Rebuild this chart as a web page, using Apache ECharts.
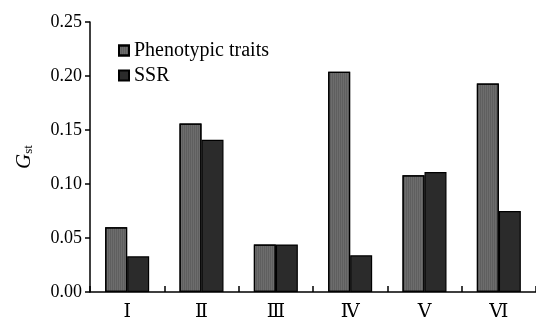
<!DOCTYPE html>
<html><head><meta charset="utf-8">
<script src="https://cdn.jsdelivr.net/npm/echarts@6/dist/echarts.min.js"></script>
<style>html,body{margin:0;padding:0;background:#fff;}#c{width:536px;height:322px;}</style>
</head><body><div id="c"></div>
<script>
const categories = ['Ⅰ','Ⅱ','Ⅲ','Ⅳ','Ⅴ','Ⅵ'];
const phenotypic = [0.060, 0.156, 0.044, 0.204, 0.108, 0.193];
const ssr = [0.033, 0.141, 0.044, 0.034, 0.111, 0.075];
const yTicks = [0, 0.05, 0.10, 0.15, 0.20, 0.25];

const serif = "'Liberation Serif','Times New Roman','DejaVu Serif',serif";
const chart = echarts.init(document.getElementById('c'));
chart.setOption({
  animation: false,
  backgroundColor: '#fff',
  grid: {left: 90, top: 22, bottom: 27, right: -6, containLabel: false},
  legend: {
    orient: 'vertical', left: 113, top: 35, itemWidth: 10, itemHeight: 10, itemGap: 4,
    icon: 'rect',
    textStyle: {fontFamily: serif, fontSize: 20, color: '#000', lineHeight: 21},
    data: ['Phenotypic traits', 'SSR']
  },
  xAxis: {
    type: 'category', data: categories,
    axisLine: {lineStyle: {color: '#000', width: 1.5}},
    axisTick: {show: true, inside: true, length: 6, interval: 0, lineStyle: {color: '#000', width: 1.5}},
    axisLabel: {fontFamily: serif, fontSize: 19, color: '#000', margin: 11}
  },
  yAxis: {
    type: 'value', min: 0, max: 0.25, interval: 0.05,
    name: '{g|G}{s|st}', nameLocation: 'middle', nameGap: 55, nameRotate: 90,
    nameTextStyle: {rich: {
      g: {fontFamily: serif, fontStyle: 'italic', fontSize: 21, color: '#000'},
      s: {fontFamily: serif, fontSize: 13, color: '#000', verticalAlign: 'bottom', padding: [6,0,0,0]}
    }},
    splitLine: {show: false},
    axisLine: {show: true, lineStyle: {color: '#000', width: 1.5}},
    axisTick: {show: true, length: 5, lineStyle: {color: '#000', width: 1.5}},
    axisLabel: {fontFamily: serif, fontSize: 18, color: '#000', margin: 8,
      formatter: v => v.toFixed(2)}
  },
  series: [
    {name: 'Phenotypic traits', type: 'bar', data: phenotypic, barWidth: 22, barGap: '0%',
     itemStyle: {color: '#6d6d6d', borderColor: '#000', borderWidth: 1.2,
       decal: {symbol: 'rect', symbolSize: 1, dashArrayX: [1, 1], dashArrayY: [4, 0], color: 'rgba(0,0,0,0.12)'}}},
    {name: 'SSR', type: 'bar', data: ssr, barWidth: 22, barGap: '0%',
     itemStyle: {color: '#2b2b2b', borderColor: '#000', borderWidth: 1.2}}
  ]
});
</script></body></html>
